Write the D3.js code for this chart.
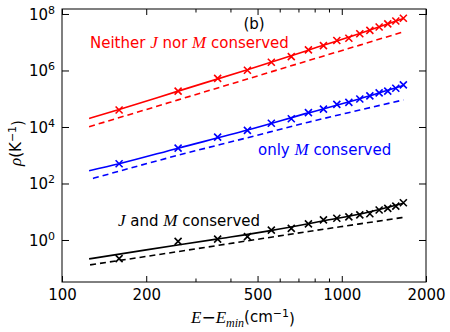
<!DOCTYPE html>
<html>
<head>
<meta charset="utf-8">
<script src="https://cdn.jsdelivr.net/npm/d3@7"></script>
<style>
body { margin: 0; background: #fff; }
svg text { font-family: "DejaVu Sans", sans-serif; }
.math { font-family: "Liberation Serif", serif; font-style: italic; }
</style>
</head>
<body>
<script>
// energies (cm^-1) of the computed points
const energies = [160, 260, 360, 460, 560, 660, 760, 860, 960, 1060, 1160, 1260, 1360, 1460, 1560, 1660];

// computed densities of states (K^-1)
const rhoNeither = [3.98e4, 1.86e5, 5.25e5, 1.02e6, 1.95e6, 3.09e6, 5.37e6, 7.59e6, 1.15e7, 1.38e7, 2.0e7, 2.63e7, 3.47e7, 4.47e7, 5.62e7, 7.08e7];
const rhoOnlyM   = [500, 1780, 4370, 7590, 1.35e4, 1.95e4, 3.24e4, 4.27e4, 6.3e4, 7.4e4, 9.8e4, 1.26e5, 1.62e5, 1.86e5, 2.34e5, 3.09e5];
const rhoJM      = [0.219, 0.89, 1.07, 1.32, 2.24, 2.57, 3.72, 5.13, 5.89, 6.61, 7.76, 8.51, 11.5, 13.2, 15.8, 20.9];

// solid curves
const fitNeitherE = [125, 160, 260, 460, 760, 1160, 1660];
const fitNeither  = [2.0e4, 4.17e4, 1.86e5, 1.07e6, 5.25e6, 2.04e7, 6.92e7];
const fitOnlyME   = [125, 160, 260, 460, 760, 1160, 1660];
const fitOnlyM    = [282, 500, 1780, 7760, 3.16e4, 1.0e5, 2.95e5];
const fitJME      = [125, 200, 357, 556, 863, 1200, 1660];
const fitJM       = [0.214, 0.447, 1.07, 2.14, 4.79, 8.91, 20.0];

// dashed curves
const dashNeitherE = [125, 260, 460, 760, 1160, 1660];
const dashNeither  = [1.02e4, 9.1e4, 5.0e5, 2.24e6, 7.9e6, 2.34e7];
const dashOnlyME   = [129, 260, 460, 760, 1160, 1660];
const dashOnlyM    = [151, 1000, 4170, 1.48e4, 3.98e4, 9.1e4];
const dashJME      = [126, 260, 460, 760, 1160, 1660];
const dashJM       = [0.132, 0.389, 0.933, 2.0, 3.72, 6.31];

const xMajor = [100, 200, 500, 1000, 2000];
const xMinor = [300, 400, 600, 700, 800, 900];
const yMajor = [1, 100, 1e4, 1e6, 1e8];

const margin = {top: 9, right: 24, bottom: 50, left: 62};
const width = 450 - margin.left - margin.right;
const height = 332 - margin.top - margin.bottom;

const x = d3.scaleLog().domain([100, 2000]).range([0, width]);
const y = d3.scaleLog().domain([0.0326, 1.5e8]).range([height, 0]);

const svg = d3.select("body").append("svg")
    .attr("width", 450)
    .attr("height", 332);

const g = svg.append("g")
    .attr("transform", `translate(${margin.left},${margin.top})`);

// axes, ticks pointing inwards
function styleAxis(sel) {
    sel.select(".domain").remove();
    sel.selectAll("line").attr("stroke", "#000");
    sel.selectAll("text").attr("font-size", 15).attr("fill", "#000");
}

g.append("g")
    .attr("transform", `translate(0,${height})`)
    .call(d3.axisBottom(x).tickValues(xMajor).tickFormat(d3.format("d")).tickSizeInner(-6).tickSizeOuter(0).tickPadding(7))
    .call(styleAxis);
g.append("g")
    .attr("transform", `translate(0,${height})`)
    .call(d3.axisBottom(x).tickValues(xMinor).tickFormat("").tickSizeInner(-3.5).tickSizeOuter(0))
    .call(styleAxis);
g.append("g")
    .call(d3.axisTop(x).tickValues(xMajor).tickFormat("").tickSizeInner(-6).tickSizeOuter(0))
    .call(styleAxis);
g.append("g")
    .call(d3.axisTop(x).tickValues(xMinor).tickFormat("").tickSizeInner(-3.5).tickSizeOuter(0))
    .call(styleAxis);

const yLeft = g.append("g")
    .call(d3.axisLeft(y).tickValues(yMajor).tickFormat("").tickSizeInner(-7).tickSizeOuter(0))
    .call(styleAxis);
g.append("g")
    .attr("transform", `translate(${width},0)`)
    .call(d3.axisRight(y).tickValues(yMajor).tickFormat("").tickSizeInner(-7).tickSizeOuter(0))
    .call(styleAxis);

// y tick labels as 10^n
yLeft.selectAll(".tick").append("text")
    .attr("x", -7)
    .attr("dy", "0.35em")
    .attr("text-anchor", "end")
    .attr("font-size", 15)
    .attr("fill", "#000")
    .each(function(d) {
        let t = d3.select(this);
        t.append("tspan").text("10");
        t.append("tspan").attr("dy", "-0.55em").attr("font-size", 11).text(Math.round(Math.log10(d)));
    });

// frame
g.append("rect")
    .attr("width", width)
    .attr("height", height)
    .attr("fill", "none")
    .attr("stroke", "#000")
    .attr("stroke-width", 1);

const line = d3.line()
    .x(d => x(d[0]))
    .y(d => y(d[1]))
    .curve(d3.curveMonotoneX);

const series = [
    {color: "#ff0000", pts: rhoNeither, fe: fitNeitherE, fv: fitNeither, de: dashNeitherE, dv: dashNeither},
    {color: "#0000ff", pts: rhoOnlyM, fe: fitOnlyME, fv: fitOnlyM, de: dashOnlyME, dv: dashOnlyM},
    {color: "#000000", pts: rhoJM, fe: fitJME, fv: fitJM, de: dashJME, dv: dashJM}
];

const plot = g.append("g");

series.forEach(s => {
    plot.append("path")
        .datum(d3.zip(s.de, s.dv))
        .attr("fill", "none")
        .attr("stroke", s.color)
        .attr("stroke-width", 1.6)
        .attr("stroke-dasharray", "6,4")
        .attr("d", line);

    plot.append("path")
        .datum(d3.zip(s.fe, s.fv))
        .attr("fill", "none")
        .attr("stroke", s.color)
        .attr("stroke-width", 1.6)
        .attr("d", line);

    plot.selectAll(null)
        .data(d3.zip(energies, s.pts))
        .enter().append("path")
        .attr("transform", d => `translate(${x(d[0])},${y(d[1])})`)
        .attr("d", "M-3.5,-3.5L3.5,3.5M-3.5,3.5L3.5,-3.5")
        .attr("stroke", s.color)
        .attr("stroke-width", 1.6)
        .attr("fill", "none");
});

// annotations
svg.append("text")
    .attr("x", 254).attr("y", 29)
    .attr("text-anchor", "middle")
    .attr("font-size", 15)
    .text("(b)");

function label(xp, yp, color, parts) {
    let t = svg.append("text")
        .attr("x", xp).attr("y", yp)
        .attr("font-size", 15)
        .attr("fill", color);
    parts.forEach(p => {
        let ts = t.append("tspan").text(p[0]);
        if (p[1]) ts.attr("class", "math").attr("font-size", 17);
    });
    return t;
}

label(90, 48, "#ff0000", [["Neither "], ["J", true], [" nor "], ["M", true], [" conserved"]]);
label(258, 155, "#0000ff", [["only "], ["M", true], [" conserved"]]);
label(118, 226, "#000000", [["J", true], [" and "], ["M", true], [" conserved"]]);

// axis titles
const yl = svg.append("text")
    .attr("transform", "translate(21,143) rotate(-90)")
    .attr("text-anchor", "middle")
    .attr("font-size", 15);
yl.append("tspan").attr("class", "math").attr("font-size", 17).text("ρ");
yl.append("tspan").text("(K");
yl.append("tspan").attr("dy", "-0.5em").attr("font-size", 11).text("−1");
yl.append("tspan").attr("dy", "0.5em").text(")");

const xl = svg.append("text")
    .attr("x", 243).attr("y", 323)
    .attr("text-anchor", "middle")
    .attr("font-size", 15);
xl.append("tspan").attr("class", "math").attr("font-size", 17).text("E");
xl.append("tspan").attr("font-size", 17).text("−");
xl.append("tspan").attr("class", "math").attr("font-size", 17).text("E");
xl.append("tspan").attr("class", "math").attr("font-size", 12).attr("dy", "0.3em").text("min");
xl.append("tspan").attr("dy", "-0.3em").text("(cm");
xl.append("tspan").attr("dy", "-0.5em").attr("font-size", 11).text("−1");
xl.append("tspan").attr("dy", "0.5em").text(")");
</script>
</body>
</html>
